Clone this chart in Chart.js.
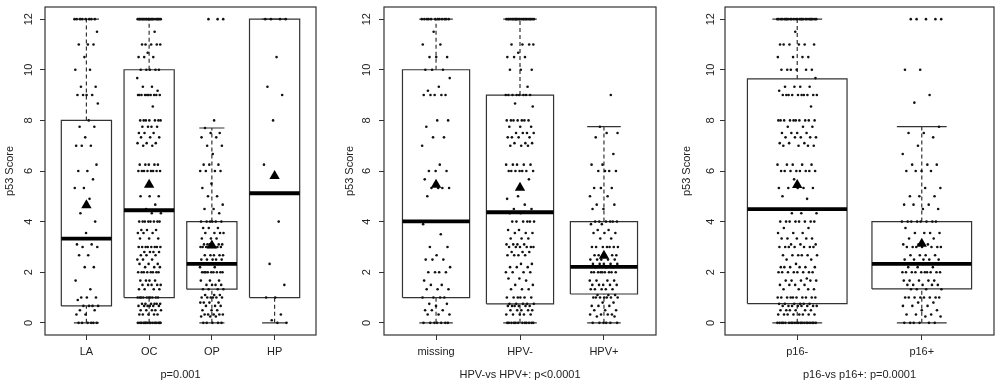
<!DOCTYPE html>
<html>
<head>
<meta charset="utf-8">
<script src="https://cdn.jsdelivr.net/npm/chart.js@4"></script>
<style>
html, body { margin: 0; padding: 0; background: #fff; }
#wrap { position: relative; width: 1000px; height: 392px; }
canvas { position: absolute; top: 0; }
</style>
</head>
<body>
<div id="wrap">
  <canvas id="c1" width="333" height="392" style="left:0"></canvas>
  <canvas id="c2" width="333" height="392" style="left:333px"></canvas>
  <canvas id="c3" width="334" height="392" style="left:666px"></canvas>
</div>
<script>
const yTicks = [0, 2, 4, 6, 8, 10, 12];

// panel 1 - site
const siteLabels = ["LA", "OC", "OP", "HP"];
const siteLow = [0, 0, 0, 0];
const siteQ1 = [0.67, 1, 1.33, 1];
const siteMedian = [3.33, 4.45, 2.33, 5.12];
const siteQ3 = [8, 10, 4, 12];
const siteHigh = [12, 12, 7.7, 12];
const siteMean = [4.65, 5.46, 3.06, 5.8];

// points as [score, count]
const laPoints = [[12,8],[11.5,1],[11,3],[10.5,1],[10,2],[9.33,2],[9,4],[8.67,1],[8,1],[7.75,2],[7.33,1],[7,3],[6.25,1],[6,2],[5.67,1],[5.33,2],[4.9,1],[4.33,1],[4,1],[3.55,1],[3.1,2],[3,2],[2.67,2],[2.2,2],[1.67,1],[1.33,1],[1,3],[0.9,1],[0.67,4],[0.5,2],[0.33,2],[0,6]];
const ocPoints = [[12,20],[11.5,1],[11,5],[10.67,1],[10.5,3],[10,5],[9.67,1],[9.33,2],[9.17,1],[9,10],[8.55,1],[8,7],[7.75,4],[7.5,3],[7.33,3],[7.1,3],[7,2],[6.25,5],[6,8],[5,3],[4.67,1],[4.5,1],[4.33,2],[4,8],[3.67,3],[3.55,3],[3.33,3],[3,8],[2.8,4],[2.67,3],[2.5,3],[2.33,3],[2.2,3],[2,8],[1.67,4],[1.5,5],[1.33,4],[1,10],[0.75,6],[0.67,6],[0.5,5],[0.33,5],[0,15]];
const opPoints = [[12,3],[8,1],[7.7,1],[7.5,2],[7.33,2],[7,2],[6.67,1],[6.25,3],[6,4],[5.5,1],[5.33,1],[5,2],[4.67,1],[4.5,2],[4.33,1],[4,6],[3.75,3],[3.55,4],[3.33,3],[3.1,6],[3,8],[2.67,5],[2.5,5],[2.33,3],[2.2,2],[2,9],[1.67,3],[1.5,4],[1.33,4],[1.1,3],[1,6],[0.8,4],[0.67,3],[0.5,3],[0.33,5],[0.25,3],[0,5]];
const hpPoints = [[12,4],[10.5,1],[9.33,1],[9,1],[8,1],[6.25,1],[4,1],[2.33,1],[1.5,1],[1,2],[0.33,1],[0.1,1],[0,2]];

// panel 2 - HPV status
const hpvLabels = ["missing", "HPV-", "HPV+"];
const hpvLow = [0, 0, 0];
const hpvQ1 = [1, 0.75, 1.14];
const hpvMedian = [4.01, 4.37, 2.21];
const hpvQ3 = [10, 9, 4];
const hpvHigh = [12, 12, 7.75];
const hpvMean = [5.46, 5.34, 2.65];

const missingPoints = [[12,12],[11.5,1],[11,2],[10.5,3],[10,3],[9.67,1],[9.33,1],[9.17,1],[9,5],[8,2],[7.75,1],[7.33,2],[7,1],[6.25,1],[6,3],[5.67,1],[5.33,4],[5,1],[4,2],[3.9,1],[3.5,1],[3,2],[2.67,1],[2.5,3],[2.2,1],[2,4],[1.67,1],[1.5,2],[1.33,3],[1,4],[0.75,2],[0.67,1],[0.5,3],[0.33,3],[0,7]];
const hpvNegPoints = [[12,22],[11,4],[10.67,1],[10.5,3],[10,3],[9.33,1],[9,8],[8.67,1],[8.55,1],[8,7],[7.75,3],[7.5,4],[7.33,4],[7.1,3],[7,3],[6.25,5],[6,7],[5.67,1],[5,1],[4.9,1],[4.67,1],[4.5,2],[4.33,2],[4,6],[3.67,2],[3.55,3],[3.33,3],[3.1,4],[3,6],[2.8,3],[2.67,4],[2.33,2],[2.2,3],[2,4],[1.75,2],[1.67,1],[1.5,2],[1.33,3],[1,6],[0.75,5],[0.67,6],[0.5,5],[0.33,5],[0,12]];
const hpvPosPoints = [[9,1],[7.75,1],[7.5,2],[7.33,1],[6.67,1],[6.25,2],[6,4],[5.33,3],[5,2],[4.67,2],[4.5,2],[4,6],[3.9,2],[3.67,2],[3.55,3],[3.33,2],[3,7],[2.67,5],[2.5,5],[2.33,5],[2.2,3],[2,9],[1.67,4],[1.5,5],[1.33,5],[1.1,3],[1,7],[0.8,2],[0.67,3],[0.5,3],[0.33,4],[0.25,2],[0,6]];

// panel 3 - p16 status
const p16Labels = ["p16-", "p16+"];
const p16Low = [0, 0];
const p16Q1 = [0.76, 1.34];
const p16Median = [4.49, 2.33];
const p16Q3 = [9.64, 4];
const p16High = [12, 7.75];
const p16Mean = [5.45, 3.13];

const p16NegPoints = [[12,25],[11.5,1],[11,6],[10.5,4],[10,6],[9.67,1],[9.33,4],[9.17,1],[9,10],[8.55,1],[8,10],[7.75,3],[7.5,4],[7.33,5],[7.1,3],[7,4],[6.25,5],[6,8],[5.67,1],[5.33,5],[5,1],[4.9,1],[4.33,3],[4,8],[3.75,2],[3.55,3],[3.33,5],[3.1,3],[3,7],[2.67,6],[2.5,2],[2.33,1],[2.2,6],[2,8],[1.75,1],[1.67,5],[1.5,4],[1.33,4],[1,10],[0.75,6],[0.67,8],[0.5,6],[0.33,8],[0,20]];
const p16PosPoints = [[12,5],[10,2],[9,1],[8.7,1],[7.75,1],[7.5,2],[7.33,1],[7,1],[6.67,1],[6.25,3],[6,4],[5.33,2],[5,3],[4.67,3],[4.5,2],[4,8],[3.75,1],[3.55,4],[3.33,2],[3.1,3],[3,7],[2.67,4],[2.5,5],[2.2,3],[2,10],[1.67,5],[1.5,5],[1.33,4],[1,8],[0.8,2],[0.67,3],[0.5,2],[0.33,3],[0.25,2],[0,6]];

const font = { family: "'Liberation Sans', Arial, sans-serif", size: 11 };
const ink = '#222';

function expand(pairs) {
  const out = [];
  pairs.forEach(([v, n]) => { for (let k = 0; k < n; k++) out.push(v); });
  return out;
}

const framePlugin = {
  id: 'frame',
  afterDraw(chart) {
    const { ctx, chartArea: a } = chart;
    ctx.save();
    ctx.strokeStyle = '#333';
    ctx.lineWidth = 1.2;
    ctx.strokeRect(a.left, a.top, a.right - a.left, a.bottom - a.top);
    ctx.restore();
  }
};

function panel(id, p) {
  const n = p.labels.length;
  const ext = 0.04 * n;
  const gap = { x: 1, y: null };
  const boxes = [], whiskers = [], caps = [], medians = [], dots = [];
  p.labels.forEach((_, i) => {
    const x = i + 1;
    boxes.push({ x: x - 0.4, y: p.q1[i] }, { x: x + 0.4, y: p.q1[i] }, { x: x + 0.4, y: p.q3[i] },
               { x: x - 0.4, y: p.q3[i] }, { x: x - 0.4, y: p.q1[i] }, gap);
    whiskers.push({ x, y: p.q3[i] }, { x, y: p.high[i] }, gap, { x, y: p.low[i] }, { x, y: p.q1[i] }, gap);
    caps.push({ x: x - 0.2, y: p.high[i] }, { x: x + 0.2, y: p.high[i] }, gap,
              { x: x - 0.2, y: p.low[i] }, { x: x + 0.2, y: p.low[i] }, gap);
    medians.push({ x: x - 0.4, y: p.median[i] }, { x: x + 0.4, y: p.median[i] }, gap);
    // deterministic jitter spread around the group position
    expand(p.points[i]).forEach((v, k) => {
      const j = ((k * 0.6180339887 + i * 0.37) % 1 - 0.5) * p.jitter;
      dots.push({ x: x + j, y: v });
    });
  });

  const line = { type: 'line', showLine: true, pointRadius: 0, tension: 0, fill: false, spanGaps: false };

  new Chart(document.getElementById(id), {
    type: 'scatter',
    data: {
      datasets: [
        { data: p.mean.map((m, i) => ({ x: i + 1, y: m })), pointStyle: 'triangle', pointRadius: 6,
          backgroundColor: '#000', borderColor: '#000', borderWidth: 0 },
        { ...line, data: medians, borderColor: '#000', borderWidth: 3.8, borderCapStyle: 'butt' },
        { data: dots, pointRadius: 1.3, backgroundColor: '#111', borderWidth: 0 },
        { ...line, data: caps, borderColor: '#333', borderWidth: 1.2 },
        { ...line, data: whiskers, borderColor: '#333', borderWidth: 1.2, borderDash: [4, 3] },
        { ...line, data: boxes, borderColor: '#333', borderWidth: 1.2 }
      ]
    },
    options: {
      responsive: false,
      animation: false,
      events: [],
      layout: { padding: { top: 7, right: p.right, left: 0, bottom: 0 } },
      plugins: { legend: { display: false }, tooltip: { enabled: false } },
      scales: {
        x: {
          type: 'linear', min: 0.5 - ext, max: n + 0.5 + ext,
          afterBuildTicks: s => { s.ticks = p.labels.map((_, i) => ({ value: i + 1 })); },
          afterFit: s => { s.height = 57; s.paddingLeft = 0; s.paddingRight = 0; },
          grid: { drawOnChartArea: false, drawTicks: true, tickLength: 5, color: '#333' },
          border: { display: false },
          ticks: { padding: 5, color: ink, font, autoSkip: false, maxRotation: 0,
                   callback: v => p.labels[v - 1] },
          title: { display: true, text: p.note, color: ink, font, padding: { top: 0, bottom: 10 } }
        },
        y: {
          type: 'linear', min: -0.48, max: 12.48,
          afterBuildTicks: s => { s.ticks = yTicks.map(v => ({ value: v })); },
          afterFit: s => { s.width = p.left; s.paddingTop = 0; s.paddingBottom = 0; },
          grid: { drawOnChartArea: false, drawTicks: true, tickLength: 5, color: '#333' },
          border: { display: false },
          ticks: { minRotation: 90, maxRotation: 90, crossAlign: 'center', padding: p.yPad, color: ink, font },
          title: { display: true, text: 'p53 Score', color: ink, font, padding: { top: p.titlePad, bottom: 0 } }
        }
      }
    },
    plugins: [framePlugin]
  });
}

panel('c1', { labels: siteLabels, low: siteLow, q1: siteQ1, median: siteMedian, q3: siteQ3, high: siteHigh,
  mean: siteMean, points: [laPoints, ocPoints, opPoints, hpPoints], note: 'p=0.001',
  left: 45, right: 17, yPad: 5, titlePad: 3.4, jitter: 0.38 });
panel('c2', { labels: hpvLabels, low: hpvLow, q1: hpvQ1, median: hpvMedian, q3: hpvQ3, high: hpvHigh,
  mean: hpvMean, points: [missingPoints, hpvNegPoints, hpvPosPoints], note: 'HPV-vs HPV+: p<0.0001',
  left: 51, right: 10, yPad: 6, titlePad: 10.4, jitter: 0.34 });
panel('c3', { labels: p16Labels, low: p16Low, q1: p16Q1, median: p16Median, q3: p16Q3, high: p16High,
  mean: p16Mean, points: [p16NegPoints, p16PosPoints], note: 'p16-vs p16+: p=0.0001',
  left: 59, right: 5, yPad: 3, titlePad: 14.4, jitter: 0.32 });
</script>
</body>
</html>
